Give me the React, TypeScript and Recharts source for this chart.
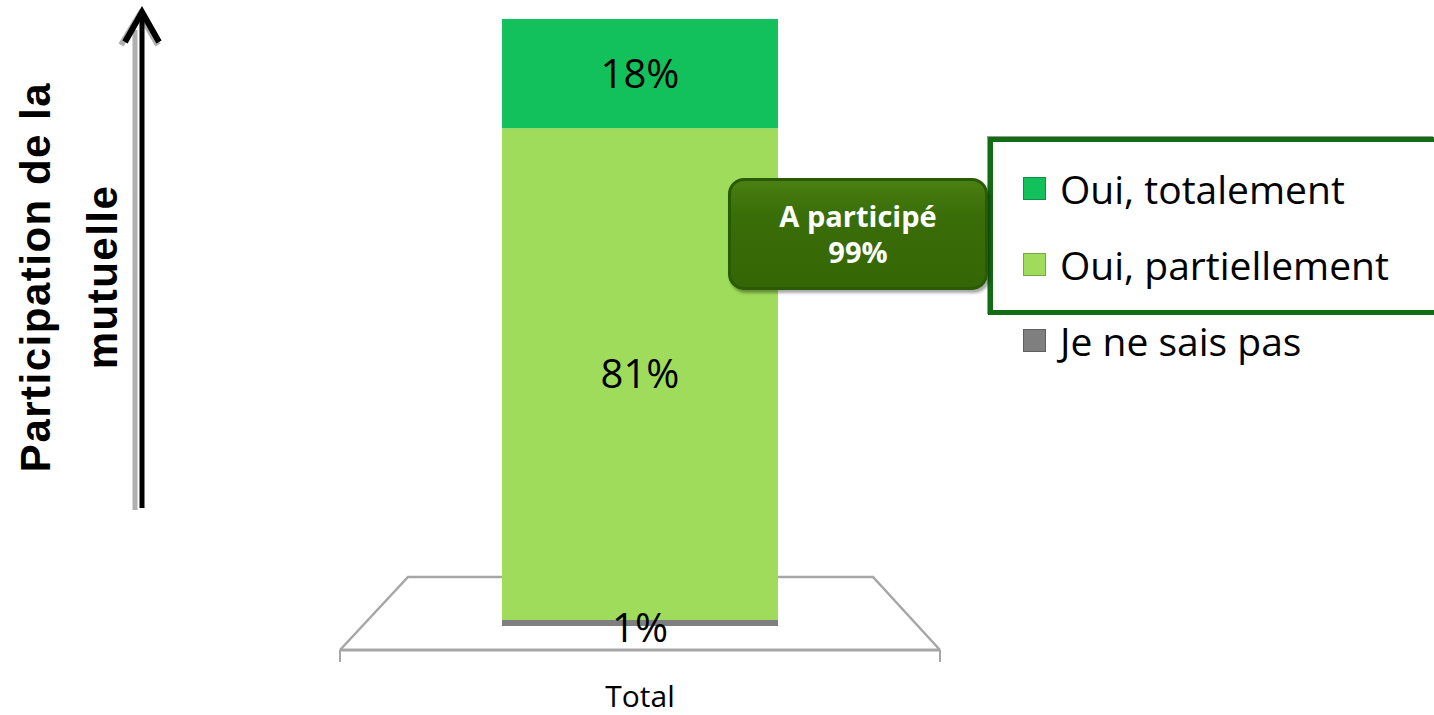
import { Bar, BarChart, LabelList, XAxis, YAxis } from "recharts";

const categories = ["Total"];
const jeNeSaisPas = [1];
const ouiPartiellement = [81];
const ouiTotalement = [18];

const seriesNames = ["Je ne sais pas", "Oui, partiellement", "Oui, totalement"];
const seriesColors = ["#7f7f7f", "#9fdc5b", "#12c15b"];
const axisTitle = ["Participation de la", "mutuelle"];
const badgeTitle = "A participé";

const W = 1434;
const H = 715;
const margin = { top: 19, right: 494, left: 340, bottom: 0 };
const xAxisHeight = 89;
const font = "'Open Sans', sans-serif";

const data = categories.map((name, i) => ({
  name,
  nsp: jeNeSaisPas[i],
  partiel: ouiPartiellement[i],
  total: ouiTotalement[i]
}));

const pct = (v: any) => `${v}%`;

function LegendBox() {
  const items = seriesNames.map((n, i) => ({ n, c: seriesColors[i] })).reverse();
  const row = (it: { n: string; c: string }) => (
    <div key={it.n} style={{ display: "flex", alignItems: "center", height: 76 }}>
      <span
        style={{
          display: "inline-block",
          width: 21,
          height: 21,
          background: it.c,
          border: "1px solid rgba(0,0,0,0.25)",
          marginRight: 14
        }}
      />
      <span style={{ fontSize: 39, color: "#000", fontFamily: font }}>{it.n}</span>
    </div>
  );
  return (
    <div style={{ position: "absolute", left: 988, top: 137, width: 446 }}>
      <div
        style={{
          border: "5px solid #136b13",
          borderRight: "none",
          background: "#fff",
          padding: "8px 0 0 30px",
          height: 178,
          boxSizing: "border-box",
          boxShadow: "-1px -1px 0 #999"
        }}
      >
        {row(items[0])}
        {row(items[1])}
      </div>
      <div style={{ paddingLeft: 35, marginTop: -13 }}>{row(items[2])}</div>
    </div>
  );
}

export default function App() {
  const plotBottom = H - xAxisHeight;
  const x0 = margin.left;
  const x1 = W - margin.right;
  const participe = ouiPartiellement[0] + ouiTotalement[0];
  const floorColor = "#a6a6a6";
  return (
    <div style={{ position: "absolute", left: 0, top: 0, width: W, height: H, background: "#fff" }}>
      <svg width={W} height={H} style={{ position: "absolute", left: 0, top: 0 }}>
        {/* floor */}
        <polyline
          points={`${x0},${plotBottom + 24} ${x0 + 68},${plotBottom - 49} ${x1 - 67},${plotBottom - 49} ${x1},${plotBottom + 24}`}
          fill="none"
          stroke={floorColor}
          strokeWidth={2.5}
        />
        <line x1={x0} y1={plotBottom + 24} x2={x1} y2={plotBottom + 24} stroke={floorColor} strokeWidth={3} />
        <line x1={x0} y1={plotBottom + 24} x2={x0} y2={plotBottom + 36} stroke={floorColor} strokeWidth={2} />
        <line x1={x1} y1={plotBottom + 24} x2={x1} y2={plotBottom + 36} stroke={floorColor} strokeWidth={2} />
      </svg>

      <div style={{ position: "absolute", left: 0, top: 0 }}>
        <BarChart width={W} height={H} data={data} margin={margin}>
          <XAxis
            dataKey="name"
            height={xAxisHeight}
            axisLine={false}
            tickLine={false}
            tickMargin={54}
            tick={{ fill: "#000", fontSize: 30, fontFamily: font }}
          />
          <YAxis hide domain={[0, 100]} />
          <Bar dataKey="nsp" name={seriesNames[0]} stackId="a" fill={seriesColors[0]} barSize={276} isAnimationActive={false}>
            <LabelList dataKey="nsp" position="center" formatter={pct} fill="#000" fontSize={40} fontFamily={font} dy={5} />
          </Bar>
          <Bar dataKey="partiel" name={seriesNames[1]} stackId="a" fill={seriesColors[1]} barSize={276} isAnimationActive={false}>
            <LabelList dataKey="partiel" position="center" formatter={pct} fill="#000" fontSize={40} fontFamily={font} />
          </Bar>
          <Bar dataKey="total" name={seriesNames[2]} stackId="a" fill={seriesColors[2]} barSize={276} isAnimationActive={false}>
            <LabelList dataKey="total" position="center" formatter={pct} fill="#000" fontSize={40} fontFamily={font} />
          </Bar>
        </BarChart>
      </div>

      <LegendBox />

      {/* badge */}
      <div
        style={{
          position: "absolute",
          left: 728,
          top: 178,
          width: 260,
          height: 112,
          boxSizing: "border-box",
          borderRadius: 16,
          background: "linear-gradient(#4a7f12, #3a6e08 30%, #356606)",
          border: "3px solid #2b5a05",
          boxShadow: "2px 3px 3px rgba(0,0,0,0.35)",
          color: "#fff",
          fontFamily: font,
          fontWeight: 700,
          fontSize: 29,
          lineHeight: "36px",
          textAlign: "center",
          display: "flex",
          flexDirection: "column",
          justifyContent: "center"
        }}
      >
        <div>{badgeTitle}</div>
        <div>{participe}%</div>
      </div>

      {/* left axis title and arrow */}
      <svg width={200} height={H} style={{ position: "absolute", left: 0, top: 0 }}>
        <g transform="translate(36,277) rotate(-90)">
          <text
            x={0}
            y={14}
            textAnchor="middle"
            fontFamily="'Liberation Sans', Arial, sans-serif"
            fontWeight={700}
            fontSize={42}
            letterSpacing={1.5}
            fill="#000"
          >
            {axisTitle[0]}
          </text>
          <text
            x={0}
            y={81}
            textAnchor="middle"
            fontFamily="'Liberation Sans', Arial, sans-serif"
            fontWeight={700}
            fontSize={42}
            letterSpacing={1.5}
            fill="#000"
          >
            {axisTitle[1]}
          </text>
        </g>
        <line x1={135} y1={510} x2={135} y2={30} stroke="#b0b0b0" strokeWidth={5} />
        <polyline points="121,45 140,14 158,45" fill="none" stroke="#b0b0b0" strokeWidth={6} />
        <line x1={142} y1={508} x2={142} y2={14} stroke="#000" strokeWidth={5} />
        <polyline points="125,42 142,12 159,42" fill="none" stroke="#000" strokeWidth={6} strokeLinejoin="miter" />
      </svg>
    </div>
  );
}
